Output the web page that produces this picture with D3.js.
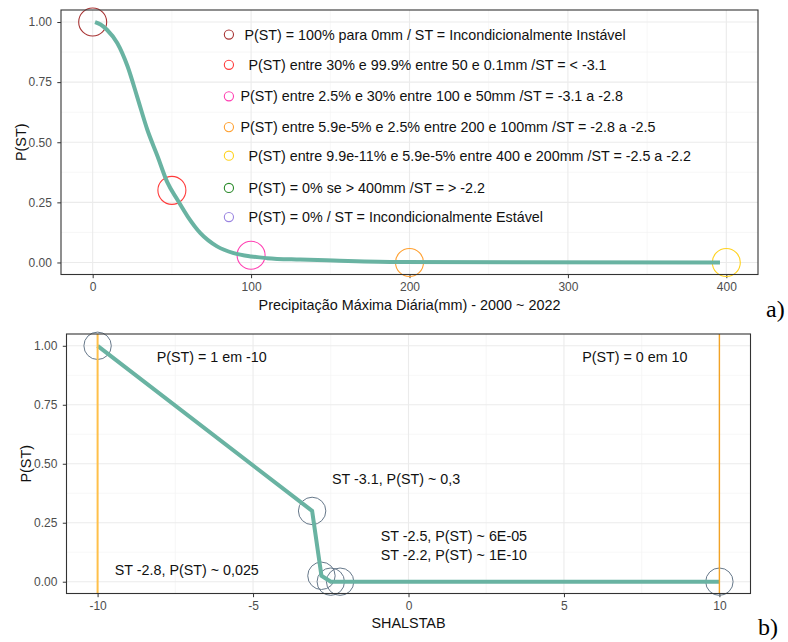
<!DOCTYPE html>
<html>
<head>
<meta charset="utf-8">
<script src="https://cdn.jsdelivr.net/npm/d3@7"></script>
<style>
  body { margin: 0; background: #fff; }
  svg text { font-family: "Liberation Sans", Arial, sans-serif; }
</style>
</head>
<body>
<script>
// panel a) - probability curve vs max daily rainfall
var precipMM = [1.5, 5, 9, 15.5, 22, 28, 34.5, 41, 47, 53.5, 60, 68, 78.5, 89, 100, 110, 131, 152, 194, 396];
var precipP  = [1.0, 0.99, 0.968, 0.913, 0.816, 0.691, 0.552, 0.441, 0.335, 0.261, 0.191, 0.122, 0.067, 0.039, 0.025, 0.018, 0.012, 0.008, 0.002, 0.0];

var markMM    = [0, 50, 100, 200, 400];
var markP     = [1, 0.3, 0.03, 0, 0];
var markColor = ["#a83434", "#ff3b3b", "#ff3fb2", "#ffa030", "#ffd21f"];

var legendText = [
  " P(ST) = 100% para 0mm / ST = Incondicionalmente Instável",
  "  P(ST) entre 30% e 99.9% entre 50 e 0.1mm /ST = < -3.1",
  "P(ST) entre 2.5% e 30% entre 100 e 50mm /ST = -3.1 a -2.8",
  "P(ST) entre 5.9e-5% e 2.5% entre 200 e 100mm /ST = -2.8 a -2.5",
  "  P(ST) entre 9.9e-11% e 5.9e-5% entre 400 e 200mm /ST = -2.5 a -2.2",
  "  P(ST) = 0% se > 400mm /ST = > -2.2",
  "  P(ST) = 0% / ST = Incondicionalmente Estável"
];
var legendColor = ["#a83434", "#ff3b3b", "#ff3fb2", "#ffa030", "#ffd21f", "#2a8a2a", "#9a84e0"];
var legendP = [0.948, 0.822, 0.691, 0.563, 0.444, 0.31, 0.189];
var legendMarkMM = 86, legendTextMM = 93.3;

// panel b) - probability vs SHALSTAB stability index
var stValues = [-10, -3.1, -2.8, -2.5, -2.2, 10];
var stP      = [1, 0.3, 0.025, 0.00006, 1e-10, 0];
var stLimits = [-10, 10];
var noteText = ["P(ST) = 1 em -10", "P(ST) = 0 em 10", "ST -3.1, P(ST) ~ 0,3",
                "ST -2.5, P(ST) ~ 6E-05", "ST -2.2, P(ST) ~ 1E-10", "ST -2.8, P(ST) ~ 0,025"];
var noteST = [-6.33, 7.28, -0.4, 1.46, 1.46, -7.13];
var noteP  = [0.953, 0.953, 0.434, 0.195, 0.113, 0.05];

var pTicks = [0, 0.25, 0.5, 0.75, 1];
var pMinor = [0.125, 0.375, 0.625, 0.875];

var svg = d3.select("body").append("svg")
  .attr("width", 788)
  .attr("height", 642);

function panel(box, xDomain, xTicks, xMinor, xTitle, tag, tagPos) {
  var x = d3.scaleLinear().domain(xDomain).range([box.left, box.right]);
  var y = d3.scaleLinear().domain([-0.05, 1.05]).range([box.bottom, box.top]);
  var g = svg.append("g");

  g.append("rect")
    .attr("x", box.left).attr("y", box.top)
    .attr("width", box.right - box.left).attr("height", box.bottom - box.top)
    .attr("fill", "white");

  // minor grid then major grid
  g.selectAll(".xmin").data(xMinor).enter().append("line")
    .attr("x1", x).attr("x2", x).attr("y1", box.top).attr("y2", box.bottom)
    .attr("stroke", "#f3f3f3").attr("stroke-width", 0.7);
  g.selectAll(".ymin").data(pMinor).enter().append("line")
    .attr("y1", y).attr("y2", y).attr("x1", box.left).attr("x2", box.right)
    .attr("stroke", "#f3f3f3").attr("stroke-width", 0.7);
  g.selectAll(".xmaj").data(xTicks).enter().append("line")
    .attr("x1", x).attr("x2", x).attr("y1", box.top).attr("y2", box.bottom)
    .attr("stroke", "#ebebeb").attr("stroke-width", 1.1);
  g.selectAll(".ymaj").data(pTicks).enter().append("line")
    .attr("y1", y).attr("y2", y).attr("x1", box.left).attr("x2", box.right)
    .attr("stroke", "#ebebeb").attr("stroke-width", 1.1);

  var xa = g.append("g")
    .attr("transform", "translate(0," + box.bottom + ")")
    .call(d3.axisBottom(x).tickValues(xTicks).tickSize(3.7).tickPadding(4.5).tickFormat(d3.format("d")));
  var ya = g.append("g")
    .attr("transform", "translate(" + box.left + ",0)")
    .call(d3.axisLeft(y).tickValues(pTicks).tickSize(3.7).tickPadding(5.5).tickFormat(d3.format(".2f")));
  [xa, ya].forEach(function(a) {
    a.select(".domain").remove();
    a.selectAll("line").attr("stroke", "#333");
    a.selectAll("text").attr("fill", "#4d4d4d").style("font-size", "12px").style("font-family", "Liberation Sans, Arial, sans-serif");
  });
  // ggplot minus sign
  xa.selectAll("text").text(function(d){ return d < 0 ? "-" + Math.abs(d) : d; });

  g.append("text")
    .attr("x", (box.left + box.right) / 2).attr("y", box.xTitleY)
    .attr("text-anchor", "middle").style("font-size", "14.4px").attr("fill", "#111")
    .text(xTitle);
  g.append("text")
    .attr("transform", "translate(" + box.yTitleX + "," + (box.top + box.bottom) / 2 + ") rotate(-90)")
    .attr("text-anchor", "middle").attr("dy", "0.35em")
    .style("font-size", "14.4px").attr("fill", "#111")
    .text("P(ST)");

  svg.append("text")
    .attr("x", tagPos[0]).attr("y", tagPos[1])
    .style("font-family", "Liberation Serif, 'DejaVu Serif', serif").style("font-size", "24px")
    .text(tag);

  return {g: g, x: x, y: y, box: box};
}

// ---- panel a)
var A = panel({left: 61, right: 758, top: 10, bottom: 274.5, xTitleY: 310, yTitleX: 21},
  [-20, 420], [0, 100, 200, 300, 400], [50, 150, 250, 350],
  "Precipitação Máxima Diária(mm) - 2000 ~ 2022", "a)", [766, 317]);

A.g.selectAll(".mark").data(markMM).enter().append("circle")
  .attr("cx", function(d){ return A.x(d); })
  .attr("cy", function(d, i){ return A.y(markP[i]); })
  .attr("r", 14)
  .attr("fill", "none")
  .attr("stroke", function(d, i){ return markColor[i]; })
  .attr("stroke-width", 1.1);

A.g.append("path")
  .datum(precipMM)
  .attr("fill", "none")
  .attr("stroke", "#69b3a2")
  .attr("stroke-width", 4)
  .attr("d", d3.line()
    .x(function(d){ return A.x(d); })
    .y(function(d, i){ return A.y(precipP[i]); })
    .curve(d3.curveMonotoneX));

A.g.selectAll(".legmark").data(legendText).enter().append("circle")
  .attr("cx", A.x(legendMarkMM))
  .attr("cy", function(d, i){ return A.y(legendP[i]); })
  .attr("r", 4.6)
  .attr("fill", "none")
  .attr("stroke", function(d, i){ return legendColor[i]; })
  .attr("stroke-width", 1.1);

A.g.selectAll(".legtext").data(legendText).enter().append("text")
  .attr("x", A.x(legendTextMM))
  .attr("y", function(d, i){ return A.y(legendP[i]); })
  .attr("dy", "0.35em")
  .style("font-size", "14.3px")
  .style("white-space", "pre")
  .attr("fill", "#111")
  .text(function(d){ return d; });

A.g.append("rect")
  .attr("x", A.box.left).attr("y", A.box.top)
  .attr("width", A.box.right - A.box.left).attr("height", A.box.bottom - A.box.top)
  .attr("fill", "none").attr("stroke", "#333").attr("stroke-width", 1.1);

// ---- panel b)
var B = panel({left: 66.5, right: 750.5, top: 334, bottom: 593.5, xTitleY: 628, yTitleX: 26},
  [-11, 11], [-10, -5, 0, 5, 10], [-7.5, -2.5, 2.5, 7.5],
  "SHALSTAB", "b)", [758, 635]);

B.g.selectAll(".mark").data(stValues).enter().append("circle")
  .attr("cx", function(d){ return B.x(d); })
  .attr("cy", function(d, i){ return B.y(stP[i]); })
  .attr("r", 13.7)
  .attr("fill", "none")
  .attr("stroke", "#66788a")
  .attr("stroke-width", 1);

B.g.append("path")
  .datum(stValues)
  .attr("fill", "none")
  .attr("stroke", "#69b3a2")
  .attr("stroke-width", 4)
  .attr("d", d3.line()
    .x(function(d){ return B.x(d); })
    .y(function(d, i){ return B.y(stP[i]); }));

B.g.selectAll(".vl").data(stLimits).enter().append("line")
  .attr("x1", B.x).attr("x2", B.x)
  .attr("y1", B.box.top).attr("y2", B.box.bottom)
  .attr("stroke", function(d, i){ return i == 0 ? "#ffc04a" : "#f2a225"; })
  .attr("stroke-width", function(d, i){ return i == 0 ? 2 : 1.4; });

B.g.selectAll(".note").data(noteText).enter().append("text")
  .attr("x", function(d, i){ return B.x(noteST[i]); })
  .attr("y", function(d, i){ return B.y(noteP[i]); })
  .attr("dy", "0.35em")
  .attr("text-anchor", "middle")
  .style("font-size", "14.3px")
  .attr("fill", "#111")
  .text(function(d){ return d; });

B.g.append("rect")
  .attr("x", B.box.left).attr("y", B.box.top)
  .attr("width", B.box.right - B.box.left).attr("height", B.box.bottom - B.box.top)
  .attr("fill", "none").attr("stroke", "#333").attr("stroke-width", 1.1);
</script>
</body>
</html>
